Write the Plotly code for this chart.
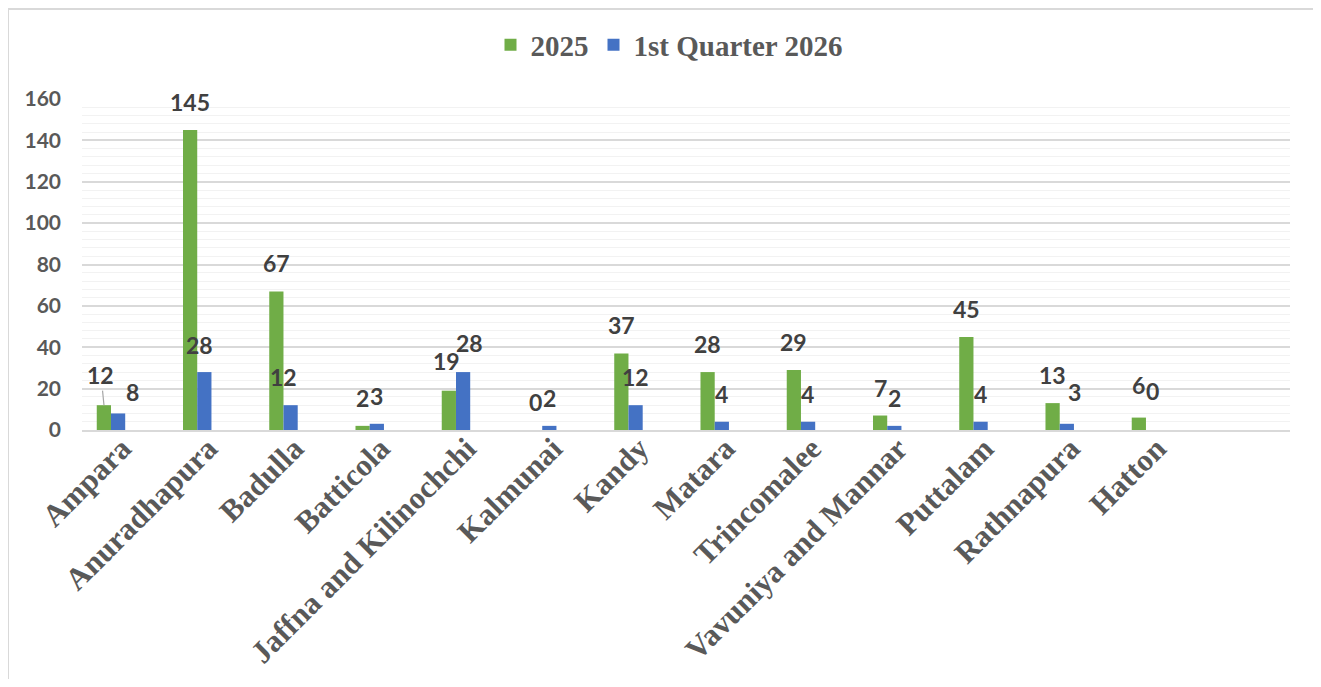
import plotly.graph_objects as go

categories = ["Ampara", "Anuradhapura", "Badulla", "Batticola", "Jaffna and Kilinochchi",
              "Kalmunai", "Kandy", "Matara", "Trincomalee", "Vavuniya and Mannar",
              "Puttalam", "Rathnapura", "Hatton", " "]
values_2025 = [12, 145, 67, 2, 19, 0, 37, 28, 29, 7, 45, 13, 6, None]
values_q1_2026 = [8, 28, 12, 3, 28, 2, 12, 4, 4, 2, 4, 3, 0, None]
series_names = ["2025", "1st Quarter 2026"]
colors = ["#70AD47", "#4472C4"]

# label nudges (pixels): (series index, category) -> (dx, dy above bar top)
label_nudges = {
    (0, "Ampara"): (-3, 30),
    (1, "Ampara"): (15, 21),
    (1, "Anuradhapura"): (-5, 27),
    (1, "Badulla"): (-7, 28),
    (0, "Jaffna and Kilinochchi"): (-2, 30),
    (1, "Jaffna and Kilinochchi"): (7, 29),
    (1, "Rathnapura"): (8, 32),
    (0, "Hatton"): (0, 33),
    (1, "Hatton"): (0, 39),
}
leader_lines = {(0, "Ampara")}

# page offset of the plot (body margin of the html page)
OFF = 8
W, H = 1321 - OFF, 687 - 2 * OFF
ml, mr, mt = 82 - OFF, 31, 99 - OFF
mb = H - (430 - OFF)
pw, ph = W - ml - mr, H - mt - mb

fig = go.Figure()
for name, vals, col in zip(series_names, [values_2025, values_q1_2026], colors):
    fig.add_trace(go.Bar(x=categories, y=vals, name=name, marker=dict(color=col, line=dict(width=0)),
                         hoverinfo="x+y"))

annotations = []
label_font = dict(family="Lato, Open Sans, sans-serif", size=23, color="#404040", weight="bold")
for s, vals in enumerate([values_2025, values_q1_2026]):
    bx = -7 if s == 0 else 7
    for i, cat in enumerate(categories):
        v = vals[i]
        if v is None:
            continue
        dx, dy = label_nudges.get((s, cat), (0, 28))
        if (s, cat) in leader_lines:
            annotations.append(dict(x=cat, y=v, xref="x", yref="y", text=str(v), xshift=bx,
                                    showarrow=True, arrowhead=0, arrowwidth=1.2,
                                    arrowcolor="#A6A6A6", ax=dx, ay=-dy, standoff=0,
                                    font=label_font))
        else:
            annotations.append(dict(x=cat, y=v, xref="x", yref="y", text=str(v),
                                    showarrow=False, xshift=bx + dx, yshift=dy, yanchor="middle",
                                    font=label_font))

fig.update_layout(
    width=W, height=H,
    margin=dict(l=ml, r=mr, t=mt, b=mb, autoexpand=False),
    paper_bgcolor="white", plot_bgcolor="white",
    barmode="group", bargap=0.67, bargroupgap=0,
    showlegend=True,
    legend=dict(orientation="h", x=(669 - 82) / pw, xanchor="center",
                y=(H - mb - (45 - OFF)) / ph, yanchor="middle",
                font=dict(family="Liberation Serif, Times New Roman, serif", size=29, color="#595959",
                          weight="bold"),
                bgcolor="rgba(0,0,0,0)", itemwidth=30, traceorder="normal"),
    annotations=annotations,
    font=dict(family="Lato, sans-serif", color="#595959"),
    xaxis=dict(tickangle=-45, showgrid=False, showline=True, linecolor="#D9D9D9", linewidth=2,
               ticks="", automargin=False, ticklabelstandoff=-14, ticklabelshift=11,
               tickfont=dict(family="Liberation Serif, Times New Roman, serif", size=31,
                             color="#595959", weight="bold"),
               range=[-0.336, 13.67]),
    yaxis=dict(range=[0, 160], dtick=20, showgrid=True, gridcolor="#D9D9D9", gridwidth=1.5,
               zeroline=False, showline=False, ticks="", automargin=False, ticklabelstandoff=20,
               tickfont=dict(family="Lato, sans-serif", size=21, color="#595959", weight="bold"),
               minor=dict(dtick=4, showgrid=True, gridcolor="#F2F2F2", gridwidth=1)),
    shapes=[dict(type="rect", xref="paper", yref="paper",
                 x0=(0 - ml) / pw, x1=(1309 - ml) / pw,
                 y0=(H - mb - 720) / ph, y1=(H - mb - 1) / ph,
                 line=dict(color="#D9D9D9", width=2), fillcolor="rgba(0,0,0,0)", layer="below")],
)
fig.update_traces(cliponaxis=False)
fig.write_html("out.html")
